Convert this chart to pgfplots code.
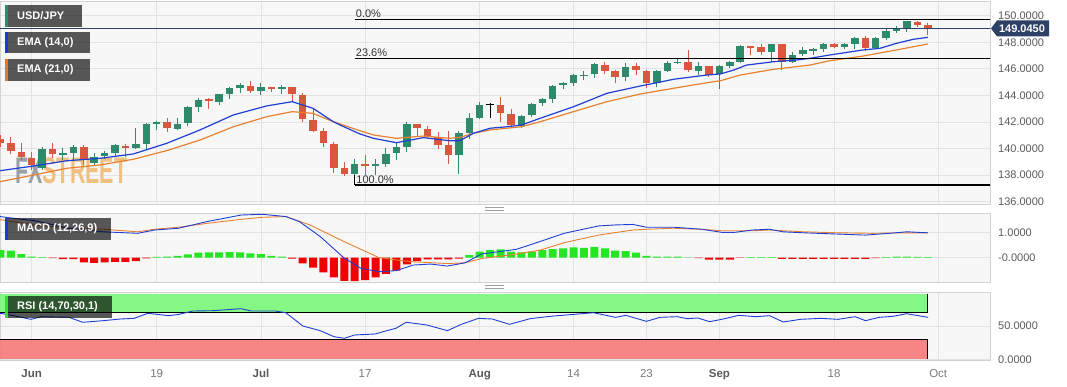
\documentclass[border=0pt]{standalone}
\usepackage{pgfplots}
\pgfplotsset{compat=1.18}
\usepackage{pgfplotstable}
\usepackage{graphicx}
\usepackage{fontspec}
\setmainfont{Liberation Sans}

\definecolor{bgc}{HTML}{F7F7F7}
\definecolor{gridc}{HTML}{E2E2E2}
\definecolor{bordc}{HTML}{D2D2D2}
\definecolor{tickc}{HTML}{5A5A5A}
\definecolor{lblc}{HTML}{7A7A7A}
\definecolor{cgreen}{HTML}{2F8A6C}
\definecolor{cred}{HTML}{D9573E}
\definecolor{emab}{HTML}{1F3FD4}
\definecolor{emao}{HTML}{E8812F}
\definecolor{hgreen}{HTML}{22E622}
\definecolor{hred}{HTML}{F00000}
\definecolor{rsig}{HTML}{7CF77C}
\definecolor{rsir}{HTML}{F77C7C}
\definecolor{pricec}{HTML}{2D4166}
\definecolor{fxg}{HTML}{9AA0A8}
\definecolor{fxo}{HTML}{F0C080}
\definecolor{fibt}{HTML}{333333}
\definecolor{accg}{HTML}{2E8B6E}
\definecolor{accb}{HTML}{1A3AE0}
\definecolor{acco}{HTML}{E87722}
\definecolor{accr}{HTML}{30E030}

% i open high low close type(1 up, -1 down, 0 doji)
\pgfplotstableread{
i o h l c t
-3 140.71 141.01 140.11 140.41 -1
-2 140.43 140.88 139.58 139.83 -1
-1 139.75 140.41 139.12 139.37 -1
0 139.28 139.75 138.37 138.75 -1
1 138.52 140.10 138.37 139.95 1
2 139.95 140.43 139.28 139.58 -1
3 139.60 140.02 139.12 139.63 1
4 139.68 140.26 139.12 140.13 1
5 140.13 140.26 138.75 139.12 -1
6 138.88 139.67 138.75 139.37 1
7 139.43 139.83 139.18 139.63 1
8 139.63 140.33 139.37 140.25 1
9 140.20 140.33 139.37 140.05 -1
10 140.01 141.53 139.93 140.33 1
11 140.33 141.91 139.93 141.84 1
12 141.86 142.09 141.39 141.96 1
13 141.96 142.27 141.26 141.51 -1
14 141.48 142.27 141.39 141.84 1
15 141.89 143.20 141.69 143.10 1
16 143.10 143.82 142.77 143.65 1
17 143.70 143.78 142.95 143.57 -1
18 143.52 144.08 143.27 144.08 1
19 144.08 144.60 143.70 144.53 1
20 144.53 144.90 144.20 144.75 1
21 144.70 145.08 144.20 144.33 -1
22 144.35 144.90 144.02 144.63 1
23 144.65 144.65 144.27 144.50 -1
24 144.53 144.78 144.08 144.60 1
25 144.60 144.60 143.52 144.10 -1
26 144.02 144.15 142.01 142.19 -1
27 142.14 143.02 141.26 141.33 -1
28 141.31 141.51 140.13 140.38 -1
29 140.33 140.50 138.17 138.50 -1
30 138.50 138.97 137.94 138.07 -1
31 138.07 139.18 137.99 138.80 1
32 138.82 139.50 137.99 138.72 -1
33 138.75 139.18 137.99 138.82 1
34 138.82 140.01 138.62 139.58 1
35 139.63 140.43 139.12 140.08 1
36 140.13 141.99 139.75 141.84 1
37 141.82 141.82 140.86 141.50 -1
38 141.46 141.69 140.78 140.90 -1
39 140.88 141.24 139.93 140.26 -1
40 140.26 141.31 138.82 139.50 -1
41 139.50 141.31 138.07 141.14 1
42 141.18 142.64 140.69 142.27 1
43 142.27 143.52 142.19 143.27 1
44 143.31 143.44 142.27 143.35 0
45 143.27 143.90 142.01 142.64 -1
46 142.57 142.95 141.59 141.76 -1
47 141.69 142.52 141.51 142.46 1
48 142.52 143.40 142.39 143.35 1
49 143.40 143.77 143.20 143.70 1
50 143.72 144.78 143.40 144.70 1
51 144.75 145.03 144.45 144.90 1
52 144.95 145.61 144.70 145.53 1
53 145.46 145.85 145.15 145.53 1
54 145.61 146.41 145.28 146.34 1
55 146.28 146.53 145.61 145.83 -1
56 145.83 145.91 144.95 145.40 -1
57 145.40 146.41 145.08 146.16 1
58 146.21 146.41 145.53 145.91 -1
59 145.86 145.91 144.53 144.91 -1
60 144.95 145.91 144.60 145.86 1
61 145.86 146.61 145.78 146.41 1
62 146.46 146.76 146.36 146.53 1
63 146.53 147.42 145.78 145.91 -1
64 145.86 146.53 145.53 146.21 1
65 146.21 146.21 145.36 145.53 -1
66 145.61 146.28 144.45 146.21 1
67 146.23 146.61 146.04 146.49 1
68 146.49 147.77 146.41 147.72 1
69 147.72 147.72 147.04 147.62 -1
70 147.62 147.85 147.04 147.24 -1
71 147.29 147.84 146.53 147.84 1
72 147.84 147.84 145.91 146.53 -1
73 146.53 147.24 146.41 147.04 1
74 147.09 147.66 146.96 147.42 1
75 147.39 147.59 147.04 147.47 1
76 147.47 147.97 147.29 147.84 1
77 147.84 147.92 147.54 147.62 -1
78 147.62 147.97 147.47 147.84 1
79 147.84 148.37 147.47 148.30 1
80 148.30 148.47 147.34 147.54 -1
81 147.54 148.42 147.47 148.34 1
82 148.34 149.05 148.17 148.85 1
83 148.87 149.22 148.72 149.05 1
84 149.05 149.62 148.79 149.60 1
85 149.55 149.62 149.13 149.30 -1
86 149.30 149.47 148.54 149.04 -1
}\candles

\pgfplotstableread{
i v
-3.04 138.32
0.16 138.67
3.35 139.07
6.55 139.25
9.75 139.58
12.95 140.38
16.15 141.39
19.35 142.52
22.55 143.20
25.0 143.52
27.0 143.02
28.95 142.01
29.6 141.76
31.5 141.09
32.8 140.76
35.0 140.43
37.6 140.81
40.1 140.58
41.1 140.58
42.4 141.14
44.0 141.52
45.6 141.63
47.0 141.76
48.8 142.27
52.0 143.14
55.2 144.15
58.4 144.70
60.0 144.95
61.6 145.21
64.8 145.53
66.1 145.61
67.4 145.91
68.6 146.28
71.2 146.53
73.4 146.66
74.7 146.79
76.6 147.04
79.8 147.42
81.4 147.54
83.0 147.92
84.6 148.22
86.0 148.37
}\emaA

\pgfplotstableread{
i v
-3.04 137.49
0.16 137.99
3.35 138.50
6.55 138.75
9.75 139.18
12.95 139.83
16.15 140.63
19.35 141.63
22.55 142.39
25.0 142.77
27.0 142.64
28.95 142.01
29.6 141.84
31.5 141.33
32.8 141.01
35.0 140.76
37.6 140.93
40.1 140.76
41.1 140.83
42.4 141.14
44.0 141.39
45.6 141.52
47.0 141.63
48.8 142.01
52.0 142.77
55.2 143.52
58.4 144.10
61.6 144.53
64.8 144.95
66.1 145.10
68.0 145.53
71.2 145.96
74.7 146.28
76.6 146.61
79.8 146.96
83.0 147.42
84.6 147.66
86.0 147.87
}\emaB

\pgfplotstableread{
i v
-3.04 1.62
-1.5 1.54
0.26 1.46
2 1.30
3.57 1.16
6.87 1.02
10.17 0.96
11.8 1.09
14.1 1.16
16.8 1.42
20.1 1.68
22.1 1.71
24.4 1.62
25.7 1.42
27.7 0.83
30.0 -0.02
31.6 -0.42
33.3 -0.55
35.0 -0.51
36.6 -0.29
38.3 -0.25
39.9 -0.33
41.6 -0.20
43.2 0.15
44.9 0.24
46.5 0.33
47.8 0.50
51.1 0.96
54.4 1.25
56.0 1.29
57.7 1.31
59.0 1.20
61.6 1.20
64.3 1.12
66.2 1.00
67.5 1.00
69.2 1.09
70.8 1.12
72.1 1.02
74.1 0.98
77.4 0.93
80.0 0.89
82.3 0.96
84.0 1.02
86.0 0.98
}\macd

\pgfplotstableread{
i v
-3.04 1.50
0.26 1.29
3.57 1.16
6.87 1.12
10.17 1.02
11.8 1.12
14.1 1.20
16.8 1.35
20.1 1.51
22.1 1.59
24.4 1.62
26.7 1.29
30.0 0.63
33.3 0.01
35.0 -0.09
36.6 -0.16
39.9 -0.23
41.6 -0.20
43.2 -0.03
46.5 0.14
48.8 0.30
51.1 0.59
54.4 0.89
57.7 1.09
59.0 1.12
61.6 1.16
64.3 1.12
66.2 1.06
69.2 1.06
70.8 1.09
74.1 1.02
77.4 0.98
80.7 0.96
84.0 0.98
86.0 0.98
}\signal

\pgfplotstableread{
i h
-3 0.30
-2 0.28
-1 0.14
0 0.04
1 0.02
2 -0.02
3 -0.06
4 -0.06
5 -0.18
6 -0.20
7 -0.18
8 -0.16
9 -0.16
10 -0.13
11 -0.03
12 0.03
13 0.04
14 0.07
15 0.13
16 0.20
17 0.21
18 0.21
19 0.22
20 0.21
21 0.17
22 0.14
23 0.07
24 0.04
25 -0.04
26 -0.22
27 -0.39
28 -0.58
29 -0.77
30 -0.91
31 -0.92
32 -0.88
33 -0.77
34 -0.64
35 -0.51
36 -0.26
37 -0.13
38 -0.07
39 -0.07
40 -0.07
41 -0.04
42 0.10
43 0.24
44 0.30
45 0.33
46 0.24
47 0.21
48 0.24
49 0.30
50 0.34
51 0.37
52 0.41
53 0.39
54 0.43
55 0.37
56 0.28
57 0.26
58 0.20
59 0.07
60 0.04
61 0.04
62 0.04
63 0.01
64 -0.02
65 -0.08
66 -0.08
67 -0.08
68 -0.01
69 0.02
70 0.02
71 0.02
72 -0.05
73 -0.05
74 -0.05
75 -0.05
76 -0.05
77 -0.05
78 -0.05
79 -0.05
80 -0.05
81 -0.02
82 0.02
83 0.04
84 0.04
85 0.03
86 0.02
}\hist

\pgfplotstableread{
i v
-3.04 69.1
-2.05 66.5
-0.07 60.0
0.92 64.0
3.57 63.1
4.89 55.6
6.87 58.0
8.52 60.5
9.84 61.5
11.16 69.1
13.15 65.5
14.14 67.5
15.46 72.5
17.44 73.0
20.09 76.0
21.08 72.5
23.39 72.5
24.38 70.0
26.03 50.0
27.69 43.0
29.01 34.0
30.0 31.5
30.99 36.5
32.97 38.0
33.96 42.5
34.95 46.5
35.94 55.6
37.93 51.5
39.91 43.0
41.23 52.5
42.88 61.5
44.2 60.5
45.86 52.5
47.84 61.0
49.46 64.0
50.45 65.5
52.09 67.5
53.9 70.0
56.04 63.0
57.02 66.0
59.0 57.0
60.3 63.0
61.95 64.0
62.93 61.0
63.92 62.0
65.07 56.5
66.22 60.0
67.86 66.0
69.5 64.0
70.82 65.5
72.13 56.0
73.77 60.0
75.74 61.5
77.39 60.0
79.03 64.0
80.02 58.0
81.33 63.0
82.64 64.5
83.96 68.5
86.03 63.0
}\rsi

\pgfplotsset{
  panel/.style={
    scale only axis, width=990pt, anchor=south west,
    xmin=-3.04, xmax=91.97,
    axis background/.style={fill=bgc},
    axis line style={draw=bordc, line width=0.8pt},
    grid=major, major grid style={draw=gridc, line width=0.7pt},
    xtick={0,12,22,32,43,52,59,66,77,87}, xticklabels={},
    major tick length=0pt, tick style={draw=none},
    yticklabel pos=right,
    yticklabel style={anchor=west, inner sep=0pt, xshift=8pt,
      font=\fontsize{11}{13}\selectfont, text=tickc},
  },
  candle/.style={only marks, mark=*, mark size=0pt,
    mark options={draw=none, fill=none}, forget plot},
}

\begin{document}
\begin{tikzpicture}
\useasboundingbox (0,0) rectangle (1067pt,386pt);
\fill[white] (0,0) rectangle (1067pt,386pt);

% ---------------- main price panel ----------------
\begin{axis}[panel, at={(0pt,182pt)}, height=203pt,
  ymin=135.81, ymax=151.108,
  ytick={136,138,140,142,144,146,148,150},
  yticklabels={136.0000,138.0000,140.0000,142.0000,144.0000,146.0000,148.0000,150.0000}]

\node[anchor=base west, inner sep=0pt] at (axis cs:-1.6,137.39)
  {\scalebox{0.58}[1]{\fontsize{37}{37}\selectfont\bfseries{\color{fxg}FX}{\color{fxo}STREET}}};

% wicks
\addplot[candle, error bars/.cd, y dir=both, y explicit, error mark=none,
  error bar style={line width=1pt, draw=cgreen}]
  table[x=i, y expr={\thisrow{t}==1 ? 0.5*(\thisrow{h}+\thisrow{l}) : nan},
        y error expr={0.5*(\thisrow{h}-\thisrow{l})}] {\candles};
\addplot[candle, error bars/.cd, y dir=both, y explicit, error mark=none,
  error bar style={line width=1pt, draw=cred}]
  table[x=i, y expr={\thisrow{t}==-1 ? 0.5*(\thisrow{h}+\thisrow{l}) : nan},
        y error expr={0.5*(\thisrow{h}-\thisrow{l})}] {\candles};
\addplot[candle, error bars/.cd, y dir=both, y explicit, error mark=none,
  error bar style={line width=1pt, draw=black}]
  table[x=i, y expr={\thisrow{t}==0 ? 0.5*(\thisrow{h}+\thisrow{l}) : nan},
        y error expr={0.5*(\thisrow{h}-\thisrow{l})}] {\candles};
% bodies
\addplot[candle, error bars/.cd, y dir=both, y explicit, error mark=none,
  error bar style={line width=7.5pt, draw=cgreen}]
  table[x=i, y expr={\thisrow{t}==1 ? 0.5*(\thisrow{o}+\thisrow{c}) : nan},
        y error expr={max(0.5*abs(\thisrow{c}-\thisrow{o}),0.05)}] {\candles};
\addplot[candle, error bars/.cd, y dir=both, y explicit, error mark=none,
  error bar style={line width=7.5pt, draw=cred}]
  table[x=i, y expr={\thisrow{t}==-1 ? 0.5*(\thisrow{o}+\thisrow{c}) : nan},
        y error expr={max(0.5*abs(\thisrow{c}-\thisrow{o}),0.05)}] {\candles};
\addplot[candle, error bars/.cd, y dir=both, y explicit, error mark=none,
  error bar style={line width=7.5pt, draw=black}]
  table[x=i, y expr={\thisrow{t}==0 ? 0.5*(\thisrow{o}+\thisrow{c}) : nan},
        y error expr={max(0.5*abs(\thisrow{c}-\thisrow{o}),0.04)}] {\candles};

% EMAs
\addplot[emao, line width=1.2pt] table[x=i, y=v] {\emaB};
\addplot[emab, line width=1.2pt] table[x=i, y=v] {\emaA};

% Fibonacci levels
\addplot[black, line width=1.2pt] coordinates {(31,149.70) (93,149.70)};
\addplot[black, line width=1.2pt] coordinates {(31,146.76) (93,146.76)};
\addplot[black, line width=1.2pt] coordinates {(31,137.24) (93,137.24)};
\addplot[black, line width=0.8pt] coordinates {(31,137.99) (31,137.24)};
\node[anchor=south west, inner sep=0pt, yshift=1.7pt, xshift=1pt, text=fibt,
  font=\fontsize{11}{13}\selectfont] at (axis cs:31,149.70) {0.0\%};
\node[anchor=south west, inner sep=0pt, yshift=1.7pt, xshift=1pt, text=fibt,
  font=\fontsize{11}{13}\selectfont] at (axis cs:31,146.76) {23.6\%};
\node[anchor=south west, inner sep=0pt, yshift=1.7pt, xshift=1.5pt, text=fibt,
  font=\fontsize{11}{13}\selectfont] at (axis cs:31,137.24) {100.0\%};

% current price
\addplot[pricec, line width=0.9pt] coordinates {(-3.5,149.045) (93,149.045)};
\end{axis}

% ---------------- MACD panel ----------------
\begin{axis}[panel, at={(0pt,104pt)}, height=69pt,
  ymin=-0.957, ymax=1.760,
  ytick={0,1}, yticklabels={-0.0000,1.0000}]
\addplot[ybar, bar width=8pt, bar shift=0pt, fill=hgreen, draw=none]
  table[x=i, y expr={\thisrow{h}>0 ? \thisrow{h} : nan}] {\hist};
\addplot[ybar, bar width=8pt, bar shift=0pt, fill=hred, draw=none]
  table[x=i, y expr={\thisrow{h}<0 ? \thisrow{h} : nan}] {\hist};
\addplot[emao, line width=0.9pt] table[x=i, y=v] {\signal};
\addplot[emab, line width=0.9pt] table[x=i, y=v] {\macd};
\end{axis}

% ---------------- RSI panel ----------------
\begin{axis}[panel, at={(0pt,26pt)}, height=68pt,
  ymin=-1.05, ymax=101.05,
  ytick={0,50}, yticklabels={0.0000,50.0000},
  xticklabels={\textbf{Jun},{\color{lblc}19},\textbf{Jul},{\color{lblc}17},\textbf{Aug},{\color{lblc}14},{\color{lblc}23},\textbf{Sep},{\color{lblc}18},{\color{lblc}Oct}},
  xticklabel style={anchor=north, inner sep=0pt, yshift=-9pt,
    font=\fontsize{11.5}{13}\selectfont, text=tickc}]
\addplot[fill=rsig, draw=none, fill opacity=0.92] coordinates {(-3.5,70) (86,70) (86,98) (-3.5,98)} -- cycle;
\addplot[fill=rsir, draw=none, fill opacity=0.92] coordinates {(-3.5,0) (86,0) (86,30) (-3.5,30)} -- cycle;
\addplot[black, line width=0.8pt] coordinates {(-3.5,70) (86,70) (86,98)};
\addplot[black, line width=0.8pt] coordinates {(-3.5,30) (86,30) (86,0)};
\addplot[emab, line width=0.9pt] table[x=i, y=v] {\rsi};
\end{axis}

% ---------------- overlays ----------------
\tikzset{lbl/.style={anchor=west, inner sep=0pt, text=white,
  font=\bfseries\fontsize{11}{13}\selectfont}}
\fill[black, fill opacity=0.65] (5pt,359pt) rectangle (82pt,381pt);
\fill[accg] (5pt,359pt) rectangle (8pt,381pt);
\node[lbl] at (17pt,370pt) {USD/JPY};

\fill[black, fill opacity=0.65] (5pt,333pt) rectangle (90pt,354pt);
\fill[accb] (5pt,333pt) rectangle (8pt,354pt);
\node[lbl] at (17pt,343.5pt) {EMA (14,0)};

\fill[black, fill opacity=0.65] (5pt,305pt) rectangle (90pt,327pt);
\fill[acco] (5pt,305pt) rectangle (8pt,327pt);
\node[lbl] at (17pt,316pt) {EMA (21,0)};

\fill[black, fill opacity=0.65] (5pt,146pt) rectangle (111pt,168pt);
\fill[accb] (5pt,146pt) rectangle (8pt,168pt);
\node[lbl] at (17pt,157pt) {MACD (12,26,9)};

\fill[black, fill opacity=0.65] (5pt,68pt) rectangle (112pt,90pt);
\fill[accr] (5pt,68pt) rectangle (8pt,90pt);
\node[lbl] at (17pt,79pt) {RSI (14,70,30,1)};

% price tag
\fill[pricec] (991pt,357.5pt) -- (997pt,365.5pt) -- (1049pt,365.5pt) -- (1049pt,349.5pt) -- (997pt,349.5pt) -- cycle;
\node[inner sep=0pt, text=white, font=\bfseries\fontsize{11}{13}\selectfont] at (1022pt,357.5pt) {149.0450};

% panel separators
\draw[gray!75, line width=0.8pt] (485pt,178.7pt) -- (504pt,178.7pt);
\draw[gray!75, line width=0.8pt] (485pt,175.8pt) -- (504pt,175.8pt);
\draw[gray!75, line width=0.8pt] (485pt,100.3pt) -- (504pt,100.3pt);
\draw[gray!75, line width=0.8pt] (485pt,97.4pt) -- (504pt,97.4pt);
\end{tikzpicture}
\end{document}
